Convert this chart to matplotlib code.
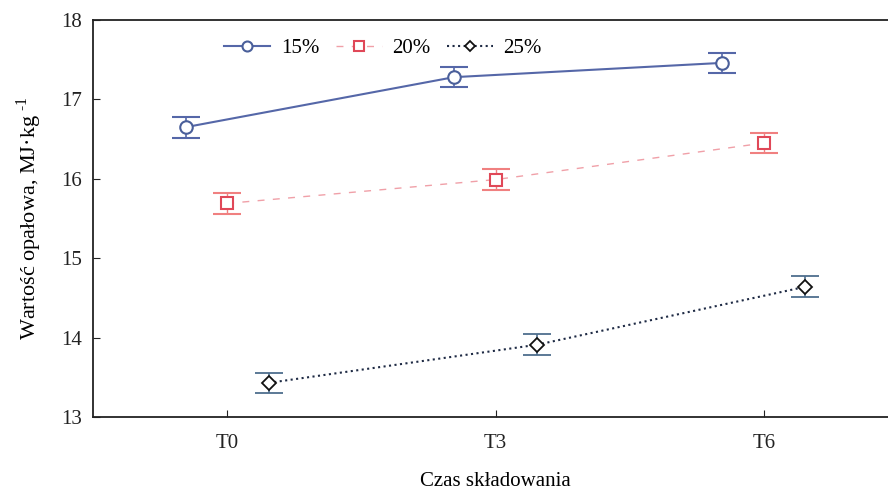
import matplotlib.pyplot as plt
import numpy as np

plt.rcParams['font.family'] = ['Liberation Serif', 'DejaVu Serif']
plt.rcParams['mathtext.fontset'] = 'custom'
plt.rcParams['mathtext.rm'] = 'Liberation Serif'

# storage times and mean values
times = ['T0', 'T3', 'T6']
v15 = [16.65, 17.28, 17.46]
v20 = [15.69, 15.99, 16.45]
v25 = [13.43, 13.91, 14.64]
e15 = [0.13, 0.13, 0.13]
e20 = [0.13, 0.13, 0.13]
e25 = [0.13, 0.13, 0.13]

x = np.arange(len(times))
shift = 0.155

fig = plt.figure(figsize=(8.88, 4.9), dpi=100)
ax = fig.add_axes([93 / 888, 1 - 417 / 490, 805 / 888, 397 / 490])

c15 = ax.errorbar(x - shift, v15, yerr=e15, color='#5567a8', marker='o', ms=9,
                  mfc='white', mec='#4a5f9a', mew=1.5, lw=1.5, capsize=10,
                  capthick=1.5, elinewidth=1.2, label='15%')
c20 = ax.errorbar(x, v20, yerr=e20, color='#f0a0a8', ls=(0, (5, 6)), marker='s',
                  ms=9, mfc='white', mec='#e04858', mew=1.5, lw=1.0, capsize=10,
                  capthick=1.2, elinewidth=1.0, ecolor='#f08080', label='20%')
c25 = ax.errorbar(x + shift, v25, yerr=e25, color='#1e2a44', ls=':', marker='D',
                  ms=7, mfc='white', mec='#111111', mew=1.3, lw=1.5, capsize=10,
                  capthick=1.5, elinewidth=1.2, ecolor='#4e6e8e', label='25%')

ax.set_xlim(-0.5, 2.5)
ax.set_ylim(13, 18)
ax.set_xticks(x)
ax.set_xticklabels(times)
ax.set_yticks([13, 14, 15, 16, 17, 18])
ax.tick_params(direction='in', length=5, labelsize=15, colors='#222222')
ax.tick_params(axis='x', pad=12)
ax.tick_params(axis='y', pad=8)
for s in ax.spines.values():
    s.set_color('#222222')
    s.set_linewidth(1.3)

ax.set_xlabel('Czas składowania', fontsize=15, labelpad=14)
ax.set_ylabel(r'Wartość opałowa, MJ·kg$^{\ \mathrm{\text{-}1}}$', fontsize=16, labelpad=12)

# legend shows only line + marker, no error bars
handles = [c.lines[0] for c in (c15, c20, c25)]
leg = ax.legend(handles, ['15%', '20%', '25%'], loc='upper left',
                bbox_to_anchor=(0.14, 1.0), ncol=3, frameon=False, fontsize=15,
                handlelength=2.2, columnspacing=0.8, handletextpad=0.5,
                markerscale=0.8)

fig.savefig('out.png', dpi=100)
